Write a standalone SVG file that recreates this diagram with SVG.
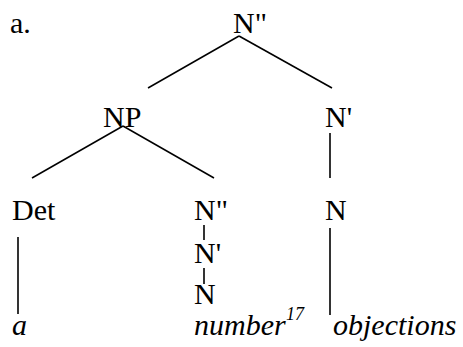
<svg xmlns="http://www.w3.org/2000/svg" width="463" height="347" viewBox="0 0 463 347" font-family="Liberation Serif, Times New Roman, DejaVu Serif, serif" font-size="30">
<style>
.it{font-style:italic}
.sup{font-size:18px;font-style:italic}
line{stroke:#000;stroke-width:1.6}
</style>
<rect width="463" height="347" fill="#fff"/>
<text x="10" y="33">a.</text>
<g id="n-top"><text x="233" y="33">N"</text></g>
<g id="n-np"><text x="103" y="127">NP</text></g>
<g id="n-nbar"><text x="325" y="127">N'</text></g>
<g id="n-det"><text x="12" y="220">Det</text></g>
<g id="n-n2"><text x="194" y="220">N"</text></g>
<g id="n-n1"><text x="194" y="263">N'</text></g>
<g id="n-n0"><text x="194" y="304">N</text></g>
<g id="n-n"><text x="325" y="220">N</text></g>
<g id="w-a"><text class="it" x="12" y="335">a</text></g>
<g id="w-number"><text class="it" x="194" y="335">number</text><text class="sup" x="286" y="320">17</text></g>
<g id="w-objections"><text class="it" x="333" y="335">objections</text></g>
<g id="connectors">
<line x1="239" y1="36" x2="148" y2="88"/>
<line x1="239" y1="36" x2="332" y2="88"/>
<line x1="123" y1="126" x2="32" y2="178"/>
<line x1="123" y1="126" x2="214" y2="178"/>
<line x1="330" y1="133" x2="330" y2="178"/>
<line x1="18" y1="237" x2="18" y2="314"/>
<line x1="204" y1="225" x2="204" y2="240"/>
<line x1="204" y1="268" x2="204" y2="284"/>
<line x1="330" y1="228" x2="330" y2="315"/>
</g>
</svg>
